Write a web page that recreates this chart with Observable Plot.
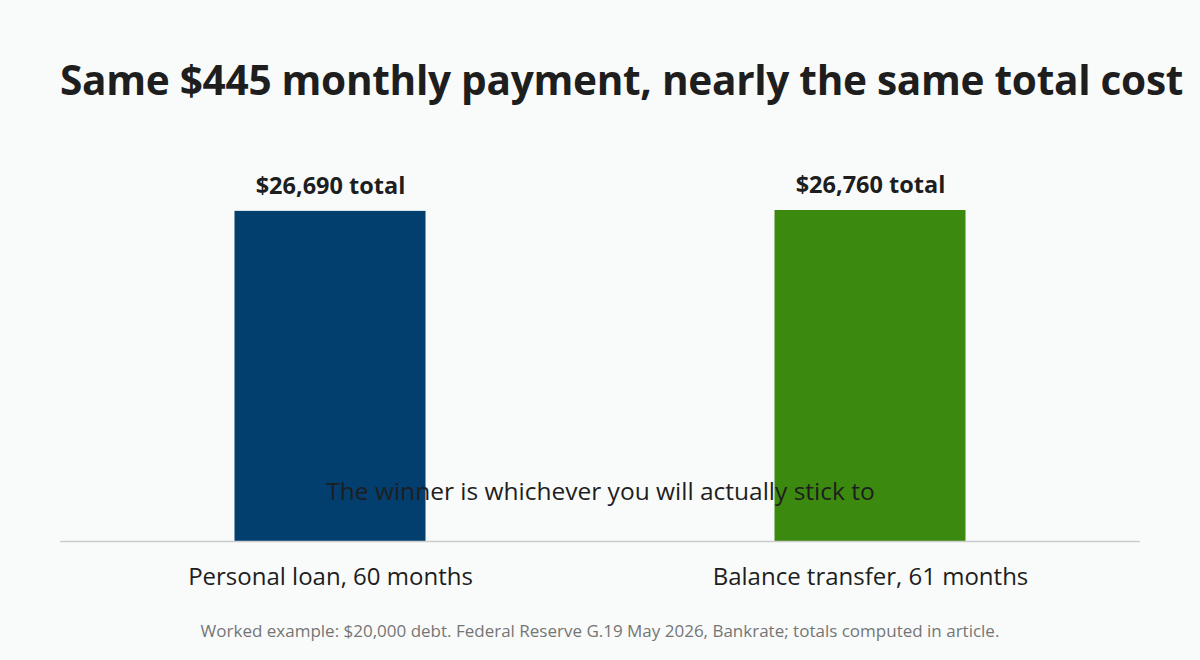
<!DOCTYPE html>
<html>
<head>
<meta charset="utf-8">
<script src="https://cdn.jsdelivr.net/npm/d3@7"></script>
<script src="https://cdn.jsdelivr.net/npm/@observablehq/plot@0.6"></script>
<style>
  html, body { margin: 0; padding: 0; background: #f9fbfa; }
  #wrap { position: relative; width: 1200px; height: 660px; font-family: "Open Sans", "Noto Sans", sans-serif; color: #1e1e1e; }
  #title { position: absolute; left: 60px; top: 52px; font-size: 40.6px; font-weight: 700; white-space: nowrap; letter-spacing: -0.3px; }
  #caption { position: absolute; left: 0; width: 1200px; top: 619px; text-align: center; font-size: 17px; color: #757575; }
  #chart { position: absolute; left: 0; top: 0; }
</style>
</head>
<body>
<div id="wrap">
  <div id="chart"></div>
  <div id="title">Same $445 monthly payment, nearly the same total cost</div>
  <div id="caption">Worked example: $20,000 debt. Federal Reserve G.19 May 2026, Bankrate; totals computed in article.</div>
</div>
<script>
const categories = ["Personal loan, 60 months", "Balance transfer, 61 months"];
const totals = [26690, 26760];
const barLabels = ["$26,690 total", "$26,760 total"];
const colors = ["#033f6e", "#3b8a0f"];
const annotation = "The winner is whichever you will actually stick to";

const data = categories.map((c, i) => ({category: c, total: totals[i], label: barLabels[i], color: colors[i]}));

const chart = Plot.plot({
  width: 1200,
  height: 660,
  marginLeft: 60,
  marginRight: 60,
  marginTop: 210,
  marginBottom: 119,
  style: {background: "transparent", fontFamily: "'Open Sans', 'Noto Sans', sans-serif", color: "#1e1e1e"},
  x: {domain: categories, padding: 0, label: null, tickSize: 0},
  y: {domain: [0, d3.max(totals)], axis: null},
  marks: [
    Plot.barY(data, {x: "category", y: "total", fill: "color", insetLeft: 174.5, insetRight: 174.5}),
    Plot.ruleY([0], {stroke: "#cccccc", strokeWidth: 1.5}),
    Plot.text(data, {x: "category", y: "total", text: "label", dy: -25, fontSize: 23.5, fontWeight: 700, fill: "#1e1e1e"}),
    Plot.text([annotation], {frameAnchor: "bottom", dy: -59, fontSize: 24.5, fill: "#1e1e1e", lineAnchor: "top"}),
    Plot.axisX({tickSize: 0, tickPadding: 26, fontSize: 24, label: null, fill: "#1e1e1e"})
  ]
});
document.getElementById("chart").appendChild(chart);
</script>
</body>
</html>
